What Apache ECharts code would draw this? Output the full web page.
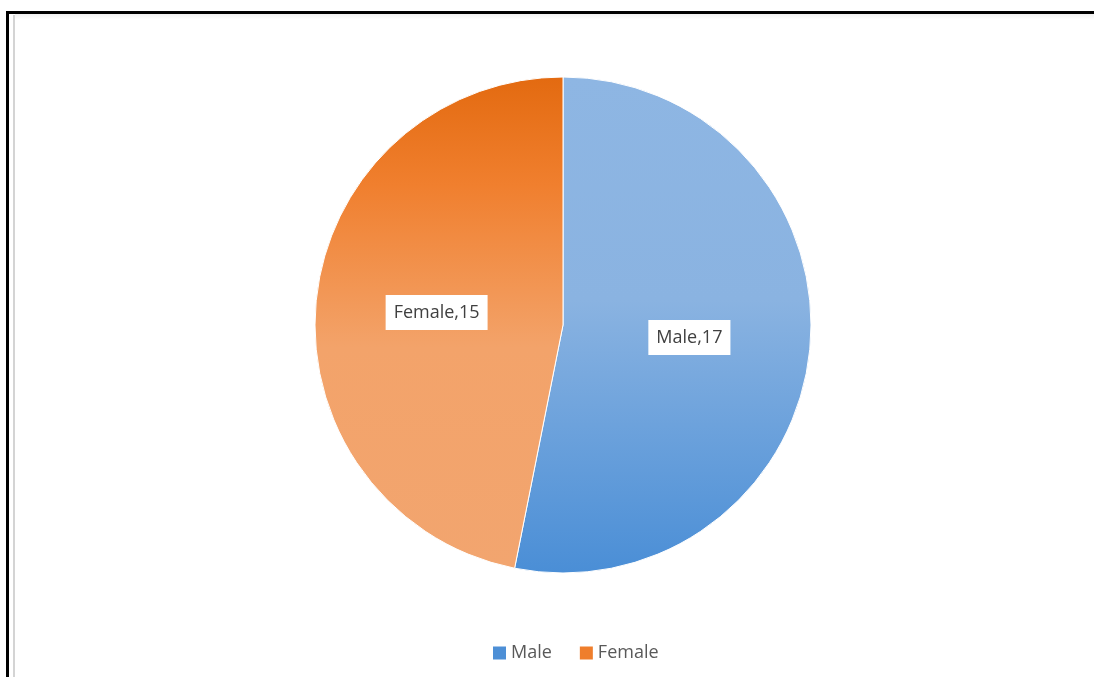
<!DOCTYPE html>
<html>
<head>
<meta charset="utf-8">
<script src="https://cdn.jsdelivr.net/npm/echarts@6/dist/echarts.min.js"></script>
<style>
  html, body { margin: 0; padding: 0; background: #fff; }
  #chart { width: 1094px; height: 677px; }
</style>
</head>
<body>
<div id="chart"></div>
<script>
// Gender breakdown
const categories = ['Male', 'Female'];
const counts = [17, 15];

const grad = (stops) => new echarts.graphic.LinearGradient(0, 0, 0, 1,
  stops.map(([offset, color]) => ({ offset, color })));

const fills = {
  Male: grad([[0, '#8eb6e3'], [0.45, '#8ab3e1'], [1, '#4a8ed6']]),
  Female: grad([[0, '#e36a10'], [0.22, '#f07f2e'], [0.55, '#f3a36a'], [1, '#f2a56f']])
};
const legendColors = { Male: '#4d8fd6', Female: '#ef7e2c' };

const chart = echarts.init(document.getElementById('chart'), null, { renderer: 'canvas' });

chart.setOption({
  backgroundColor: '#ffffff',
  animation: false,
  graphic: [
    // outer frame
    { type: 'rect', z: 10, shape: { x: 7.5, y: 12.5, width: 1110, height: 700 },
      style: { fill: 'none', stroke: '#000', lineWidth: 3 } },
    { type: 'rect', z: 10, shape: { x: 13, y: 15, width: 2, height: 670 },
      style: { fill: '#d4d4d4' } },
    { type: 'rect', z: 10, shape: { x: 15, y: 14, width: 1090, height: 6 },
      style: { fill: new echarts.graphic.LinearGradient(0, 0, 0, 1, [
        { offset: 0, color: 'rgba(0,0,0,0.06)' }, { offset: 1, color: 'rgba(0,0,0,0)' }]) } }
  ],
  legend: {
    top: 639,
    left: 486,
    itemWidth: 15,
    itemHeight: 15,
    itemGap: 26,
    icon: 'rect',
    textStyle: { color: '#595959', fontSize: 18, fontFamily: 'Open Sans', padding: [0, 0, 0, -1] },
    data: categories.map(name => ({ name, itemStyle: { color: legendColors[name] } }))
  },
  series: [{
    type: 'pie',
    center: [563, 325],
    radius: 248,
    startAngle: 90,
    clockwise: true,
    label: {
      show: true,
      position: 'inside',
      formatter: '{b},{c}',
      color: '#404040',
      fontSize: 18,
      fontFamily: 'Open Sans',
      backgroundColor: '#ffffff',
      padding: [9, 8, 8, 8]
    },
    labelLine: { show: false },
    emphasis: { disabled: true },
    itemStyle: { borderColor: '#ffffff', borderWidth: 1 },
    data: categories.map((name, i) => ({
      name, value: counts[i], itemStyle: { color: fills[name] }
    }))
  }]
});
</script>
</body>
</html>
